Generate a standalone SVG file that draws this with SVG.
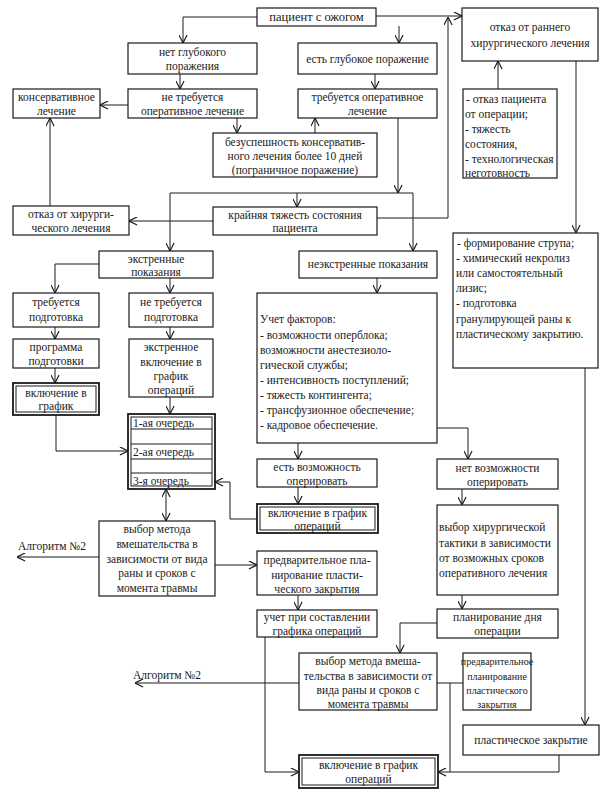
<svg xmlns="http://www.w3.org/2000/svg" width="610" height="798" viewBox="0 0 610 798" font-family="'Liberation Serif', 'DejaVu Serif', serif">
<style>
.b{fill:#fff;stroke:#1a1a1a;stroke-width:1.2}
.bo{fill:#fff;stroke:#1a1a1a;stroke-width:1.8}
.bi{fill:none;stroke:#1a1a1a;stroke-width:1}
.t{font-family:'Liberation Serif','DejaVu Serif',serif;font-size:11.5px;fill:#1a1a1a;text-anchor:middle}
.l{text-anchor:start}
.c{fill:none;stroke:#1a1a1a;stroke-width:1}
.a{marker-end:url(#ar)}
</style>
<defs>
<marker id="ar" viewBox="0 0 10 10" refX="10" refY="5" markerWidth="9" markerHeight="9" orient="auto" markerUnits="userSpaceOnUse">
<path d="M1,0.5 L10,5 L1,9.5" fill="none" stroke="#1a1a1a" stroke-width="1.3"/>
</marker>
</defs>
<rect width="610" height="798" fill="#fff"/>
<g id="connectors">
<path class="c a" d="M257,17 H183 V43"/>
<path class="c a" d="M399,26 V43"/>
<path class="c a" d="M376,16 H462"/>
<path class="c a" d="M180,74 V89"/>
<path class="c a" d="M128,105 H100"/>
<path class="c a" d="M237,118 V133"/>
<path class="c a" d="M375,74 V89"/>
<path class="c a" d="M315,133 V118"/>
<path class="c a" d="M398,118 V193"/>
<path class="c a" d="M297,193 H170 V251"/>
<path class="c a" d="M297,193 H413 V251"/>
<path class="c a" d="M297,193 V207"/>
<path class="c a" d="M50,206 V118"/>
<path class="c a" d="M213,221 H129"/>
<path class="c a" d="M377,218 H448 V17"/>
<path class="c a" d="M498,89 V61"/>
<path class="c a" d="M576,61 V233"/>
<path class="c a" d="M585,368 V725"/>
<path class="c a" d="M99,264 H55 V293"/>
<path class="c a" d="M170,278 V293"/>
<path class="c a" d="M55,327 V339"/>
<path class="c a" d="M55,368 V383"/>
<path class="c a" d="M170,327 V339"/>
<path class="c a" d="M170,397 V414"/>
<path class="c a" d="M56,415 V451 H128"/>
<path class="c a" d="M377,278 V293"/>
<path class="c a" d="M298,443 V459"/>
<path class="c a" d="M437,428 H468 V459"/>
<path class="c a" d="M298,487 V504"/>
<path class="c a" d="M257,519 H230 V482 H215"/>
<path class="c a" d="M166,505 V489"/>
<path class="c a" d="M166,505 V521"/>
<path class="c a" d="M99,557 H17"/>
<path class="c a" d="M215,565 H257"/>
<path class="c a" d="M298,595 V610"/>
<path class="c a" d="M265,637 V772 H299"/>
<path class="c a" d="M462,489 V505"/>
<path class="c a" d="M462,595 V609"/>
<path class="c a" d="M437,623 H400 V653"/>
<path class="c a" d="M299,683 H135"/>
<path class="c" d="M437,683 H463"/>
<path class="c" d="M450,683 V772"/>
<path class="c a" d="M559,755 V772 H438"/>
</g>
<g id="labels">
<text class="t l" x="18" y="550">Алгоритм №2</text>
<text class="t l" x="133" y="679">Алгоритм №2</text>
</g>
<g id="n-patient"><rect class="b" x="257" y="8" width="119" height="18"/><text class="t" x="316.5" y="21" style="font-size:12.5px">пациент с ожогом</text></g>
<g id="n-no-deep"><rect class="b" x="128" y="43" width="129" height="31"/><text class="t" x="192.5" y="56">нет глубокого</text><text class="t" x="192.5" y="70">поражения</text></g>
<g id="n-deep"><rect class="b" x="298" y="43" width="139" height="31"/><text class="t" x="367.5" y="63">есть глубокое поражение</text></g>
<g id="n-conserv"><rect class="b" x="13" y="89" width="87" height="29"/><text class="t" x="56.5" y="101">консервативное</text><text class="t" x="56.5" y="115">лечение</text></g>
<g id="n-no-op"><rect class="b" x="128" y="89" width="129" height="29"/><text class="t" x="192.5" y="101">не требуется</text><text class="t" x="192.5" y="115">оперативное лечение</text></g>
<g id="n-op"><rect class="b" x="298" y="89" width="139" height="29"/><text class="t" x="367.5" y="101">требуется оперативное</text><text class="t" x="367.5" y="115">лечение</text></g>
<g id="n-fail"><rect class="b" x="213" y="133" width="164" height="44"/><text class="t" x="295" y="146">безуспешность консерватив-</text><text class="t" x="295" y="160">ного лечения более 10 дней</text><text class="t" x="295" y="174">(пограничное поражение)</text></g>
<g id="n-refuse-early"><rect class="b" x="462" y="8" width="136" height="53"/><text class="t" x="530" y="31">отказ от раннего</text><text class="t" x="530" y="47">хирургического лечения</text></g>
<g id="n-reasons"><rect class="b" x="463" y="89" width="94" height="89"/>
<text class="t l" x="466" y="103"> - отказ пациента</text><text class="t l" x="465" y="118">от операции;</text><text class="t l" x="465" y="133">- тяжесть</text><text class="t l" x="465" y="148">состояния,</text><text class="t l" x="465" y="163">- технологическая</text><text class="t l" x="465" y="177">неготовность</text></g>
<g id="n-refuse-surg"><rect class="b" x="13" y="206" width="116" height="29"/><text class="t" x="71" y="218">отказ от хирурги-</text><text class="t" x="71" y="232">ческого лечения</text></g>
<g id="n-severe"><rect class="b" x="213" y="207" width="164" height="28"/><text class="t" x="295" y="219">крайняя тяжесть состояния</text><text class="t" x="295" y="232">пациента</text></g>
<g id="n-scab"><rect class="b" x="453" y="233" width="145" height="135"/>
<text class="t l" x="457" y="247"> - формирование струпа;</text><text class="t l" x="456" y="262">- химический некролиз</text><text class="t l" x="456" y="277">или самостоятельный</text><text class="t l" x="456" y="292">лизис;</text><text class="t l" x="456" y="307">- подготовка</text><text class="t l" x="456" y="323">гранулирующей раны к</text><text class="t l" x="456" y="338">пластическому закрытию.</text></g>
<g id="n-urgent"><rect class="b" x="99" y="251" width="114" height="27"/><text class="t" x="156" y="263">экстренные</text><text class="t" x="156" y="276">показания</text></g>
<g id="n-nonurgent"><rect class="b" x="299" y="251" width="138" height="27"/><text class="t" x="368" y="268">неэкстренные показания</text></g>
<g id="n-prep"><rect class="b" x="13" y="293" width="86" height="34"/><text class="t" x="56" y="306">требуется</text><text class="t" x="56" y="321">подготовка</text></g>
<g id="n-noprep"><rect class="b" x="129" y="293" width="84" height="34"/><text class="t" x="171" y="306">не требуется</text><text class="t" x="171" y="321">подготовка</text></g>
<g id="n-factors"><rect class="b" x="257" y="293" width="180" height="150"/>
<text class="t l" x="260" y="323">Учет факторов:</text><text class="t l" x="260" y="339">- возможности оперблока;</text><text class="t l" x="260" y="354">возможности  анестезиоло-</text><text class="t l" x="260" y="369">гической службы;</text><text class="t l" x="260" y="384">- интенсивность поступлений;</text><text class="t l" x="260" y="399">- тяжесть контингента;</text><text class="t l" x="260" y="414">- трансфузионное обеспечение;</text><text class="t l" x="260" y="429">- кадровое обеспечение.</text></g>
<g id="n-program"><rect class="b" x="13" y="339" width="86" height="29"/><text class="t" x="56" y="351">программа</text><text class="t" x="56" y="365">подготовки</text></g>
<g id="n-urgent-incl"><rect class="b" x="129" y="339" width="84" height="58"/><text class="t" x="171" y="351">экстренное</text><text class="t" x="171" y="366">включение в</text><text class="t" x="171" y="380">график</text><text class="t" x="171" y="394">операций</text></g>
<g id="n-incl1"><rect class="bo" x="13" y="383" width="86" height="32"/><rect class="bi" x="16" y="386" width="80" height="26"/><text class="t" x="56" y="397">включение в</text><text class="t" x="56" y="410">график</text></g>
<g id="n-queue"><rect class="bo" x="128" y="414" width="87" height="75"/><rect class="bi" x="131" y="417" width="81" height="69"/>
<path class="c" d="M131,429 H212 M131,444 H212 M131,459 H212 M131,473 H212" stroke="#555"/>
<text class="t l" x="133" y="427">1-ая очередь</text><text class="t l" x="133" y="456">2-ая очередь</text><text class="t l" x="133" y="485">3-я очередь</text></g>
<g id="n-can"><rect class="b" x="257" y="459" width="120" height="28"/><text class="t" x="317" y="471">есть возможность</text><text class="t" x="317" y="485">оперировать</text></g>
<g id="n-cannot"><rect class="b" x="437" y="459" width="121" height="30"/><text class="t" x="497.5" y="472">нет возможности</text><text class="t" x="497.5" y="486">оперировать</text></g>
<g id="n-incl2"><rect class="bo" x="257" y="504" width="121" height="29"/><rect class="bi" x="260" y="507" width="115" height="23"/><text class="t" x="317.5" y="517">включение в график</text><text class="t" x="317.5" y="530">операций</text></g>
<g id="n-tactics"><rect class="b" x="437" y="505" width="121" height="90"/><text class="t l" x="439" y="531">выбор хирургической</text><text class="t l" x="439" y="547">тактики в зависимости</text><text class="t l" x="439" y="562">от возможных сроков</text><text class="t l" x="439" y="577">оперативного лечения</text></g>
<g id="n-method1"><rect class="b" x="99" y="521" width="116" height="75"/><text class="t" x="157" y="533">выбор метода</text><text class="t" x="157" y="548">вмешательства в</text><text class="t" x="157" y="563">зависимости от вида</text><text class="t" x="157" y="577">раны и сроков с</text><text class="t" x="157" y="592">момента травмы</text></g>
<g id="n-preplan1"><rect class="b" x="257" y="551" width="120" height="44"/><text class="t" x="317" y="564">предварительное пла-</text><text class="t" x="317" y="579">нирование пласти-</text><text class="t" x="317" y="593">ческого закрытия</text></g>
<g id="n-account"><rect class="b" x="257" y="610" width="120" height="27"/><text class="t" x="317" y="621">учет при составлении</text><text class="t" x="317" y="635">графика операций</text></g>
<g id="n-dayplan"><rect class="b" x="437" y="609" width="121" height="29"/><text class="t" x="497.5" y="621">планирование дня</text><text class="t" x="497.5" y="635">операции</text></g>
<g id="n-method2"><rect class="b" x="299" y="653" width="138" height="57"/><text class="t" x="368" y="665">выбор метода вмеша-</text><text class="t" x="368" y="680">тельства в зависимости от</text><text class="t" x="368" y="694">вида раны и сроков с</text><text class="t" x="368" y="708">момента травмы</text></g>
<g id="n-preplan2"><rect class="b" x="463" y="653" width="68" height="57"/><text class="t" x="497" y="665" style="font-size:10px">предварительное</text><text class="t" x="497" y="680" style="font-size:10px">планирование</text><text class="t" x="497" y="694" style="font-size:10px">пластического</text><text class="t" x="497" y="708" style="font-size:10px">закрытия</text></g>
<g id="n-plastic"><rect class="b" x="463" y="725" width="136" height="30"/><text class="t" x="531" y="744">пластическое закрытие</text></g>
<g id="n-incl3"><rect class="bo" x="299" y="755" width="139" height="33"/><rect class="bi" x="302" y="758" width="133" height="27"/><text class="t" x="368.5" y="769">включение в график</text><text class="t" x="368.5" y="783">операций</text></g>
</svg>
